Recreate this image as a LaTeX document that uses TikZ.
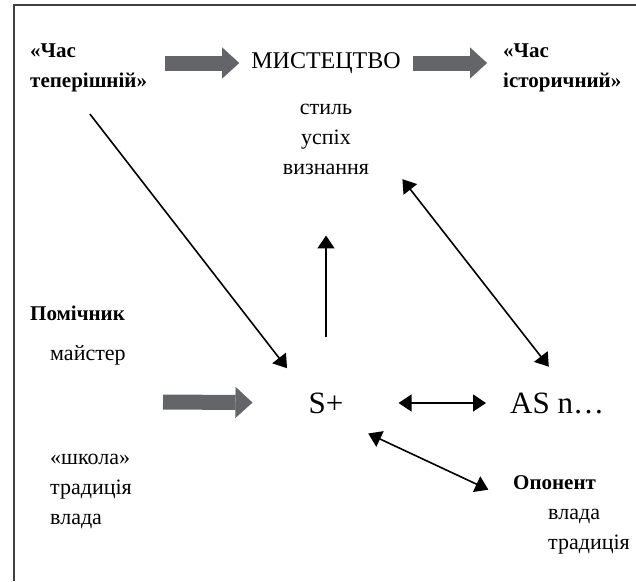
\documentclass[tikz,border=0pt]{standalone}
\usepackage{fontspec}
\setmainfont{Liberation Serif}
\usetikzlibrary{arrows.meta,positioning}

\definecolor{fatgrey}{RGB}{100,101,105}

\begin{document}
\begin{tikzpicture}[x=1pt, y=-1pt, >={Triangle[length=13pt,width=17pt]}, thin/.style={<->, line width=1.6pt},
    fat/.style={-{Triangle[length=17pt,width=31pt,line width=0.1pt]}, line width=15pt, draw=fatgrey, fill=fatgrey},
    lbl/.style={font=\fontsize{22}{30}\selectfont, inner sep=2pt},
    head/.style={font=\bfseries\fontsize{21}{30}\selectfont, inner sep=2pt, align=left},
    mid/.style={font=\fontsize{24}{28}\selectfont, inner sep=2pt},
    big/.style={font=\fontsize{31}{36}\selectfont, inner sep=2pt}]

    \useasboundingbox (0,0) rectangle (636,581);
    \draw[line width=1.2pt, black!75] (636,5) -- (14,5) -- (14,581);

    \node[head, anchor=west] (tep)    at (28,68)   {«Час\\теперішній»};
    \node[mid]               (mist)   at (326,63)  {МИСТЕЦТВО};
    \node[head, anchor=west] (ist)    at (501,68)  {«Час\\історичний»};
    \node[lbl, align=center] (attrs)  at (326,139) {стиль\\успіх\\визнання};
    \node[big]               (splus)  at (326,403) {S+};
    \node[big, anchor=west]  (asn)    at (508,403) {AS n\ldots};
    \node[head, anchor=west] (helper) at (28,313)  {Помічник};
    \node[lbl, anchor=west]  (master) at (48,355)  {майстер};
    \node[lbl, anchor=west, align=left] (school) at (48,491) {«школа»\\традиція\\влада};
    \node[head, anchor=west] (opon)   at (511,483) {Опонент};
    \node[lbl, anchor=west, align=left] (oplist) at (546,532) {влада\\традиція};
    \coordinate (feed) at (163,402);

    % thick grey arrows
    \draw[fat, shorten <=16pt, shorten >=10pt] (tep.east |- mist.west) -- (mist.west);
    \draw[fat, shorten <=10pt, shorten >=14pt] (mist.east) -- (mist.east -| ist.west);
    \draw[fat, shorten >=54pt] (feed) -- (splus);

    % thin arrows
    \draw[thin, <-, shorten <=59pt, shorten >=53pt] (attrs) -- (splus);
    \draw[thin, ->, shorten <=25pt, shorten >=44pt] ([xshift=-14pt]tep.south) -- ([xshift=-12pt]splus.center);
    \draw[thin, shorten <=53pt, shorten >=22pt] (splus) -- (asn.west);
    \draw[thin, shorten <=51pt, shorten >=46pt] ([xshift=45pt]attrs.center) -- ([xshift=20pt]asn.center);
    \draw[thin, shorten <=72pt, shorten >=25pt] ([xshift=-23pt]splus.center) -- ([yshift=-8pt]opon.south west);
\end{tikzpicture}
\end{document}
